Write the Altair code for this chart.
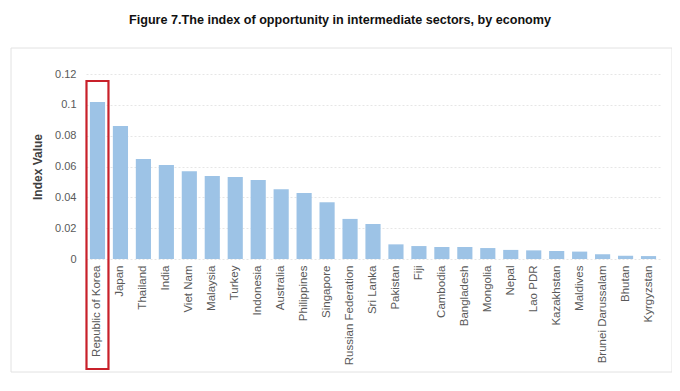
import altair as alt
import pandas as pd

countries = ["Republic of Korea", "Japan", "Thailand", "India", "Viet Nam", "Malaysia",
             "Turkey", "Indonesia", "Australia", "Philippines", "Singapore",
             "Russian Federation", "Sri Lanka", "Pakistan", "Fiji", "Cambodia",
             "Bangladesh", "Mongolia", "Nepal", "Lao PDR", "Kazakhstan", "Maldives",
             "Brunei Darussalam", "Bhutan", "Kyrgyzstan"]
values = [0.1018, 0.0863, 0.0649, 0.0610, 0.0570, 0.0538, 0.0532, 0.0512, 0.0452,
          0.0428, 0.0368, 0.0260, 0.0227, 0.0095, 0.0084, 0.0078, 0.0078, 0.0071,
          0.0059, 0.0056, 0.0052, 0.0048, 0.0031, 0.0021, 0.0019]
highlight = ["Republic of Korea"]
y_ticks = [0, 0.02, 0.04, 0.06, 0.08, 0.1, 0.12]

df = pd.DataFrame({"country": countries, "value": values})
hl = pd.DataFrame({"country": highlight})
frame_df = pd.DataFrame({"k": [0]})

W, H = 574, 185
FONT = "Liberation Sans"

x_enc = alt.X("country:N", sort=countries, title=None,
              scale=alt.Scale(paddingInner=0.34, paddingOuter=0.17),
              axis=alt.Axis(labelAngle=-90, labelAlign="right", labelBaseline="middle",
                            labelPadding=6, ticks=False, domain=False,
                            labelColor="#595959", labelFontSize=11.5, labelFont=FONT))

bars = alt.Chart(df).mark_bar(color="#9DC3E6").encode(
    x=x_enc,
    y=alt.Y("value:Q", title="Index Value",
            scale=alt.Scale(domain=[0, 0.12], nice=False),
            axis=alt.Axis(values=y_ticks, format=".2~f", domain=False, ticks=False,
                          labelPadding=10, labelColor="#595959", labelFontSize=11,
                          labelFont=FONT, grid=True, gridColor="#e6e6e6",
                          gridDash=[2, 2], titleFont=FONT, titleFontSize=12,
                          titleFontWeight="bold", titleColor="#404040",
                          titlePadding=10)),
)

redbox = alt.Chart(hl).mark_bar(fill=None, stroke="#C8202A", strokeWidth=2.2,
                                width={"band": 1.45}).encode(
    x=alt.X("country:N", sort=countries),
    y=alt.value(7),
    y2=alt.value(295),
)

frame = alt.Chart(frame_df).mark_rect(fill=None, stroke="#e2e2e2", strokeWidth=1).encode(
    x=alt.value(-75), x2=alt.value(586), y=alt.value(-26), y2=alt.value(298)
)

chart = alt.layer(frame, bars, redbox).properties(
    width=W, height=H,
    autosize=alt.AutoSizeParams(type="none"),
    padding={"left": 78, "top": 66, "right": 12, "bottom": 118},
    title=alt.TitleParams("Figure 7.The index of opportunity in intermediate sectors, by economy",
                          font=FONT, fontSize=12.6, fontWeight="bold", color="#111111",
                          anchor="middle", dx=-33, offset=21),
).configure_view(stroke=None)

chart.save("out.html", embed_options={"renderer": "svg", "actions": False})
